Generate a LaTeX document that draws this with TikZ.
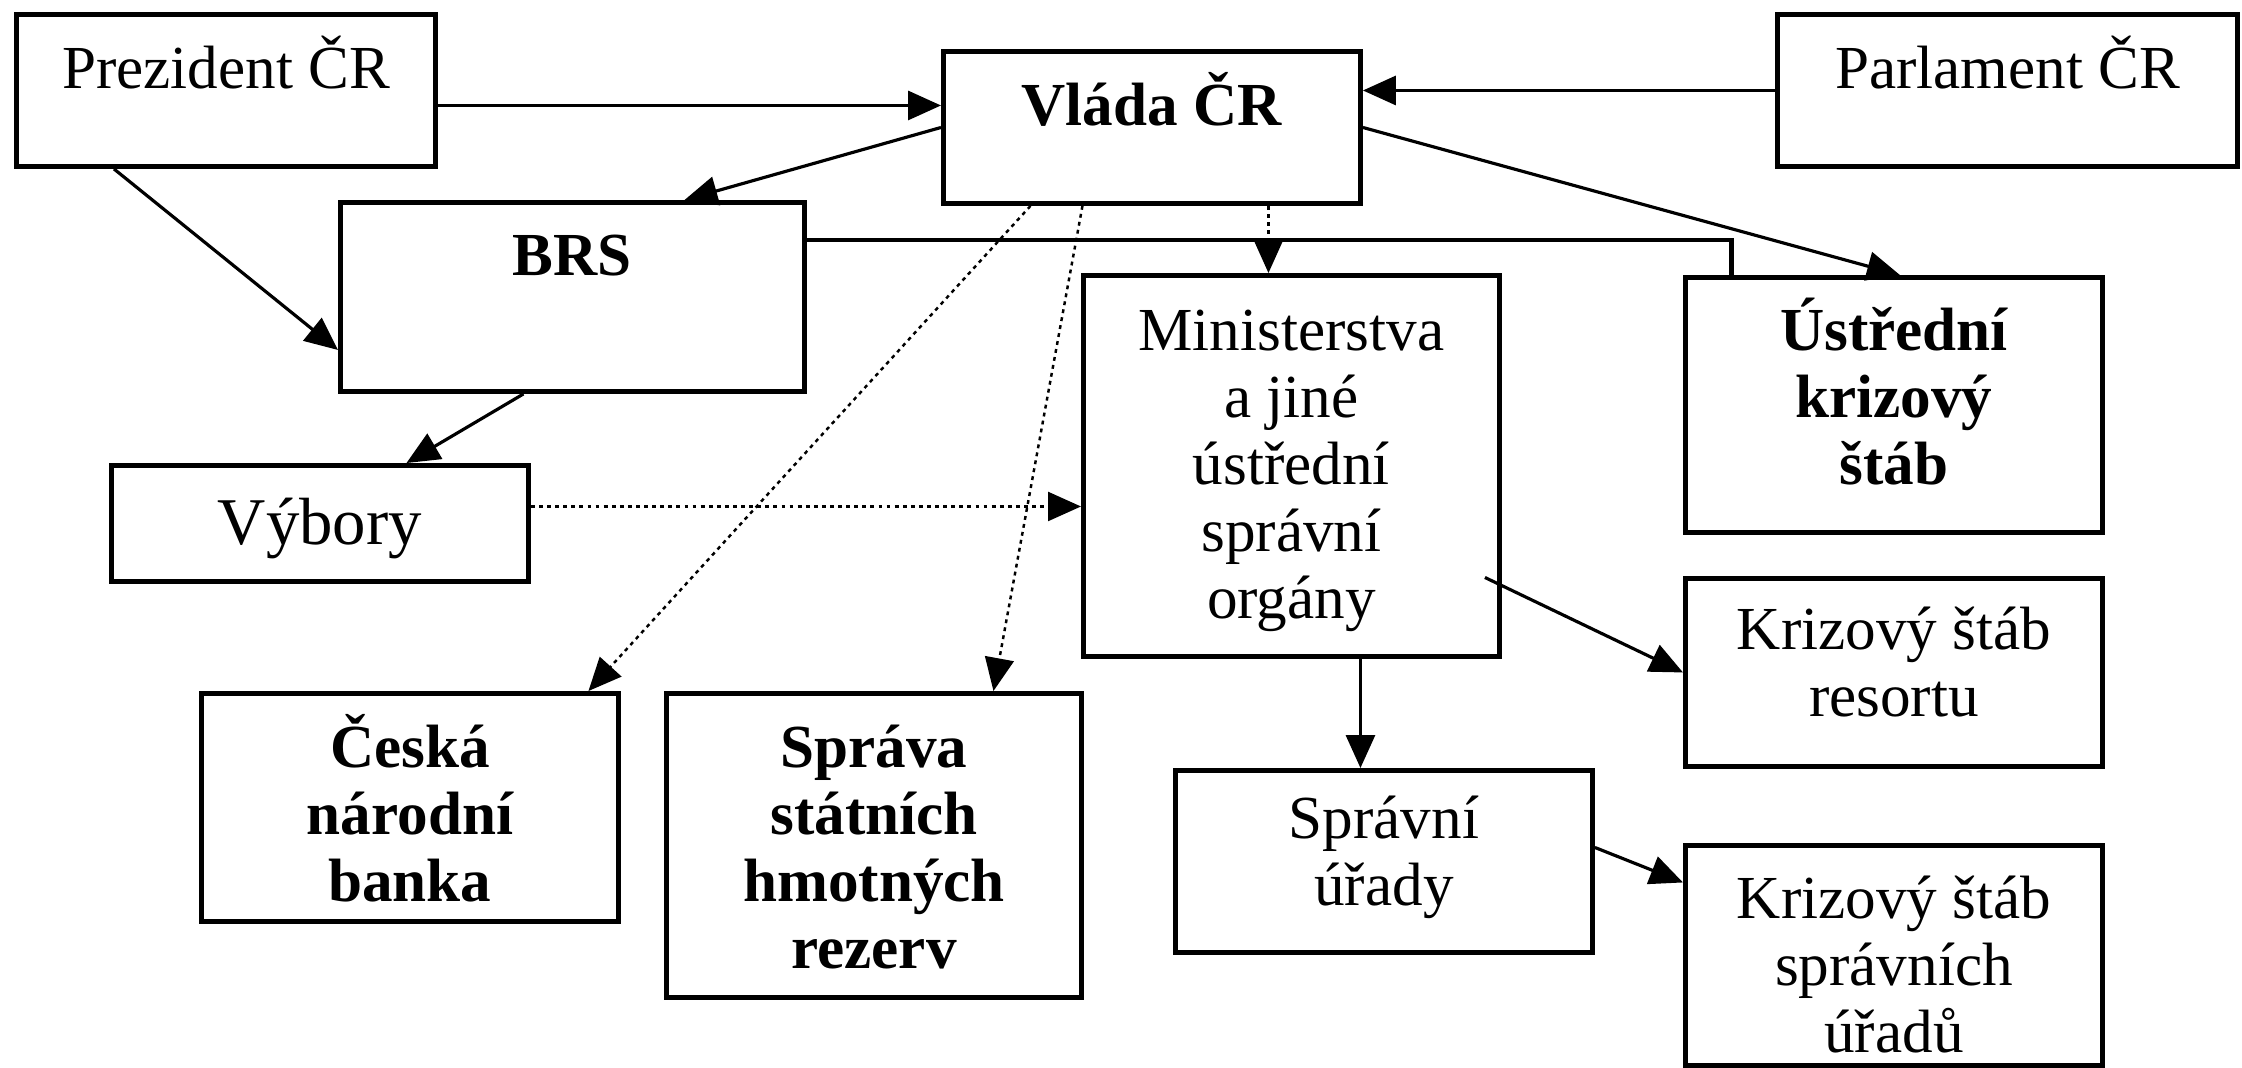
\documentclass[tikz,border=0pt]{standalone}
\usepackage{fontspec}
\setmainfont{Liberation Serif}
\usetikzlibrary{arrows.meta}

\begin{document}
\begin{tikzpicture}[
    box/.style={draw, line width=1.4pt, inner sep=0pt, anchor=north west,
        font=\fontsize{17.4}{19.06}\selectfont},
    arr/.style={line width=0.9pt, -{Triangle[length=0.33cm,width=0.29cm]}},
    dots/.style={arr, line width=0.7pt, dash pattern=on 1.1pt off 1.2pt},
    link/.style={line width=1.3pt}]
    \useasboundingbox (0,0) rectangle (22.42,-10.67);

    % Top row
    \node[box] (prez) at (0.14,-0.12) {\parbox[t][1.52cm][t]{4.19cm}{\centering\rule{0pt}{0.74cm}Prezident ČR}};
    \node[box] (vlada) at (9.41,-0.49) {\parbox[t][1.52cm][t]{4.17cm}{\centering\rule{0pt}{0.74cm}\textbf{Vláda ČR}}};
    \node[box] (parl) at (17.75,-0.12) {\parbox[t][1.52cm][t]{4.60cm}{\centering\rule{0pt}{0.74cm}Parlament ČR}};

    % BRS and committees
    \node[box] (brs) at (3.38,-2.00) {\parbox[t][1.89cm][t]{4.64cm}{\centering\rule{0pt}{0.73cm}\textbf{BRS}}};
    \node[box, font=\fontsize{19}{21}\selectfont] (vyb) at (1.09,-4.63) {\parbox[t][1.16cm][t]{4.17cm}{\centering\rule{0pt}{0.79cm}Výbory}};

    % Ministries and crisis staffs
    \node[box] (minis) at (10.81,-2.73) {\parbox[t][3.81cm][t]{4.16cm}{\centering\rule{0pt}{0.75cm}Ministerstva\\a jiné\\ústřední\\správní\\orgány}};
    \node[box] (ustr) at (16.83,-2.75) {\parbox[t][2.55cm][t]{4.17cm}{\centering\rule{0pt}{0.73cm}\textbf{Ústřední\\krizový\\štáb}}};
    \node[box] (ksres) at (16.83,-5.76) {\parbox[t][1.88cm][t]{4.17cm}{\centering\rule{0pt}{0.71cm}Krizový štáb\\resortu}};
    \node[box] (sprur) at (11.73,-7.68) {\parbox[t][1.82cm][t]{4.17cm}{\centering\rule{0pt}{0.68cm}Správní\\úřady}};
    \node[box] (kssu) at (16.83,-8.43) {\parbox[t][2.20cm][t]{4.17cm}{\centering\rule{0pt}{0.73cm}Krizový štáb\\správních\\úřadů}};

    % Bank and reserves
    \node[box] (cnb) at (1.99,-6.91) {\parbox[t][2.28cm][t]{4.17cm}{\centering\rule{0pt}{0.74cm}\textbf{Česká\\národní\\banka}}};
    \node[box] (sprava) at (6.64,-6.91) {\parbox[t][3.04cm][t]{4.15cm}{\centering\rule{0pt}{0.74cm}\textbf{Správa\\státních\\hmotných\\rezerv}}};

    % Solid arrows
    \draw[arr] ([yshift=-0.15cm]prez.east) -- ([yshift=-0.15cm]prez.east -| vlada.west);
    \draw[arr] (parl.west) -- (parl.west -| vlada.east);
    \draw[arr] (vlada.west) -- ([xshift=1.12cm]brs.north);
    \draw[arr] (vlada.east) -- ([xshift=0.06cm]ustr.north);
    \draw[arr] ([xshift=-1.12cm]prez.south) -- ([yshift=-0.53cm]brs.west);
    \draw[arr] ([xshift=-0.49cm]brs.south) -- ([xshift=0.865cm]vyb.north);
    \draw[arr] ([shift={(-0.17cm,-1.115cm)}]minis.east) -- (ksres.west);
    \draw[arr] ([xshift=0.69cm]minis.south) -- ([xshift=0.69cm]minis.south |- sprur.north);
    \draw[arr] ([yshift=0.14cm]sprur.east) -- ([yshift=0.73cm]kssu.west);

    % BRS to central crisis staff
    \draw[link] ([yshift=0.57cm]brs.east) -| ([xshift=-1.625cm]ustr.north);

    % Dotted arrows
    \draw[dots] ([xshift=1.165cm]vlada.south) -- ([xshift=1.165cm]vlada.south |- minis.north);
    \draw[dots] ([xshift=-1.215cm]vlada.south) -- ([xshift=1.785cm]cnb.north);
    \draw[dots] ([xshift=-0.695cm]vlada.south) -- ([xshift=1.195cm]sprava.north);
    \draw[dots] ([yshift=0.17cm]vyb.east) -- ([yshift=0.17cm]vyb.east -| minis.west);
\end{tikzpicture}
\end{document}
